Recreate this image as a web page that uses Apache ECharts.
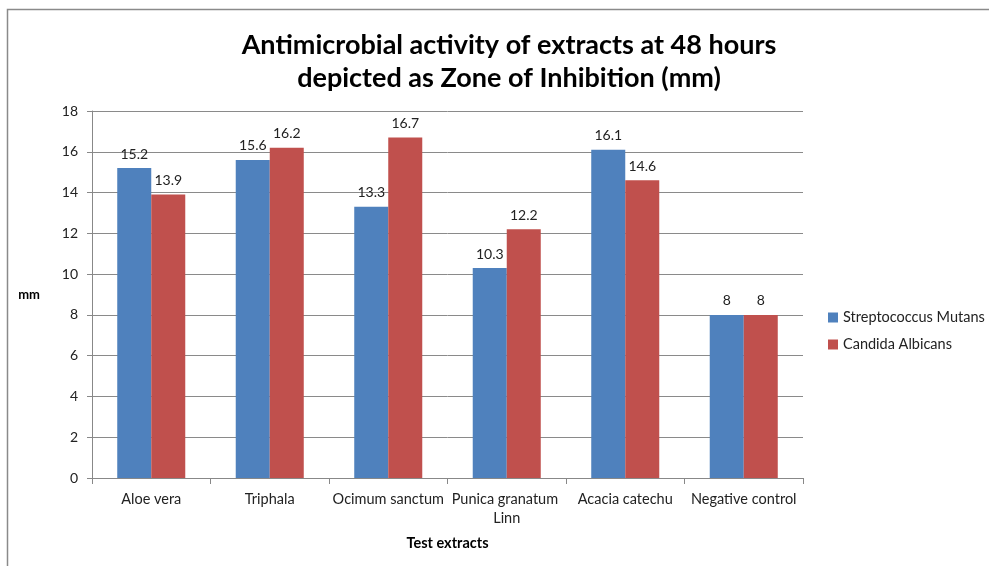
<!DOCTYPE html>
<html>
<head>
<meta charset="utf-8">
<script src="https://cdn.jsdelivr.net/npm/echarts@6/dist/echarts.min.js"></script>
<style>
  html, body { margin: 0; padding: 0; background: #fff; }
  #chart { width: 989px; height: 566px; }
</style>
</head>
<body>
<div id="chart"></div>
<script>
const categories = ['Aloe vera', 'Triphala', 'Ocimum sanctum', 'Punica granatum Linn', 'Acacia catechu', 'Negative control'];
const streptoValues = [15.2, 15.6, 13.3, 10.3, 16.1, 8];
const candidaValues = [13.9, 16.2, 16.7, 12.2, 14.6, 8];
const yTicks = [0, 2, 4, 6, 8, 10, 12, 14, 16, 18];

const chart = echarts.init(document.getElementById('chart'));
const font = 'Lato, "Open Sans", sans-serif';

const labelStyle = {
    show: true,
    position: 'top',
    distance: 7,
    color: '#222',
    fontSize: 14,
    fontFamily: font
};

const option = {
    animation: false,
    textStyle: { fontFamily: font },
    title: {
        text: 'Antimicrobial activity of extracts at 48 hours\ndepicted as Zone of Inhibition (mm)',
        left: 504,
        top: 24,
        textAlign: 'center',
        textStyle: {
            fontSize: 27,
            fontWeight: 'bold',
            lineHeight: 33,
            color: '#000',
            fontFamily: font
        }
    },
    graphic: [{
        type: 'rect',
        shape: { x: 7.5, y: 9.5, width: 1000, height: 600 },
        style: { fill: 'none', stroke: '#8a8a8a', lineWidth: 1.5 },
        silent: true
    }],
    legend: {
        orient: 'vertical',
        left: 828,
        top: 310,
        padding: 0,
        itemWidth: 10,
        itemHeight: 10,
        itemGap: 12,
        icon: 'rect',
        textStyle: { fontSize: 14.5, color: '#222', fontFamily: font },
        data: ['Streptococcus Mutans', 'Candida Albicans']
    },
    grid: {
        left: 92,
        right: 186,
        top: 111,
        bottom: 88
    },
    xAxis: {
        type: 'category',
        data: categories,
        name: 'Test extracts',
        nameLocation: 'middle',
        nameGap: 58,
        nameTextStyle: { fontSize: 14.5, fontWeight: 'bold', color: '#000', fontFamily: font },
        axisLine: { lineStyle: { color: '#888' } },
        axisTick: { show: true, length: 6, lineStyle: { color: '#888' } },
        axisLabel: {
            color: '#222',
            fontSize: 14.5,
            margin: 12,
            interval: 0,
            width: 116,
            overflow: 'break',
            lineHeight: 19,
            fontFamily: font
        }
    },
    yAxis: {
        type: 'value',
        min: yTicks[0],
        max: yTicks[yTicks.length - 1],
        interval: 2,
        name: 'mm',
        nameLocation: 'middle',
        nameRotate: 0,
        nameGap: 52,
        nameTextStyle: { fontSize: 13, fontWeight: 'bold', color: '#000', fontFamily: font },
        axisLine: { show: true, lineStyle: { color: '#888' } },
        axisTick: { show: true, length: 5, lineStyle: { color: '#888' } },
        axisLabel: { color: '#222', fontSize: 14, margin: 14, fontFamily: font },
        splitLine: { lineStyle: { color: '#8a8a8a', width: 1 } }
    },
    series: [{
        name: 'Streptococcus Mutans',
        type: 'bar',
        data: streptoValues,
        barGap: '0%',
        barCategoryGap: '42.6%',
        itemStyle: { color: '#4F81BD' },
        label: labelStyle
    }, {
        name: 'Candida Albicans',
        type: 'bar',
        data: candidaValues,
        barGap: '0%',
        barCategoryGap: '42.6%',
        itemStyle: { color: '#C0504D' },
        label: labelStyle
    }]
};

chart.setOption(option);
</script>
</body>
</html>
